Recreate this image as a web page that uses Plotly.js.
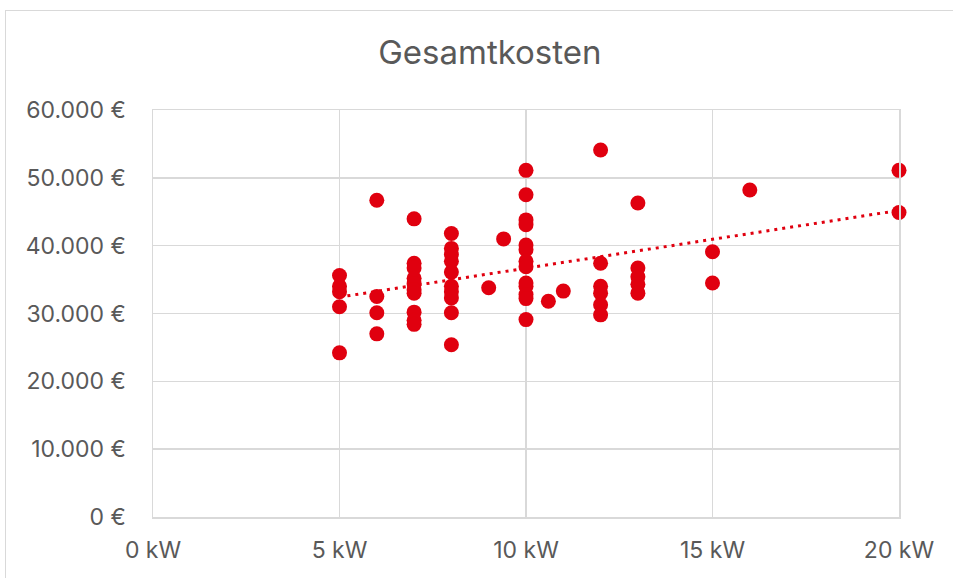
<!DOCTYPE html>
<html>
<head>
<meta charset="utf-8">
<script src="https://cdn.plot.ly/plotly-3.0.1.min.js"></script>
<style>
  html, body { margin: 0; padding: 0; background: #ffffff; overflow: hidden; }
  #wrap { position: relative; width: 953px; height: 578px; }
  #frame { position: absolute; left: 5px; top: 10px; width: 980px; height: 600px;
           border: 1.5px solid #d9d9d9; box-sizing: border-box; pointer-events: none; z-index: 5; }
  #chart { position: absolute; left: 0; top: 0; width: 953px; height: 578px; }
</style>
</head>
<body>
<div id="wrap">
  <div id="chart"></div>
  <div id="frame"></div>
</div>
<script>
// Leistung (kW) und Gesamtkosten (€) je Anlage
const leistungKW = [
  5, 5, 5, 5, 5,
  6, 6, 6, 6,
  7, 7, 7, 7, 7, 7, 7, 7, 7, 7,
  8, 8, 8, 8, 8, 8, 8, 8, 8, 8,
  9, 9.4,
  10, 10, 10, 10, 10, 10, 10, 10, 10, 10, 10, 10, 10,
  10.6, 11,
  12, 12, 12, 12, 12, 12,
  13, 13, 13, 13, 13,
  15, 15,
  16,
  20, 20
];
const gesamtkosten = [
  35600, 34000, 33200, 31000, 24200,
  46700, 32500, 30100, 27000,
  43950, 37400, 36700, 35200, 34400, 33500, 33000, 30200, 29000, 28400,
  41800, 39600, 38700, 37700, 36100, 34000, 33200, 32300, 30100, 25400,
  33800, 41000,
  51100, 47500, 43800, 43100, 40100, 39400, 37700, 36900, 34500, 34000, 32800, 32200, 29100,
  31800, 33300,
  54100, 37400, 34000, 33000, 31300, 29800,
  46300, 36700, 35400, 34300, 33000,
  39100, 34500,
  48200,
  51100, 44900
];
const xTicks = [0, 5, 10, 15, 20];
const xTickText = ["0 kW", "5 kW", "10 kW", "15 kW", "20 kW"];
const yTicks = [0, 10000, 20000, 30000, 40000, 50000, 60000];
const yTickText = ["0 €", "10.000 €", "20.000 €", "30.000 €", "40.000 €", "50.000 €", "60.000 €"];
const titel = "Gesamtkosten";

// Linearer Trend (kleinste Quadrate)
const n = leistungKW.length;
let sx = 0, sy = 0, sxx = 0, sxy = 0;
for (let i = 0; i < n; i++) {
  sx += leistungKW[i]; sy += gesamtkosten[i];
  sxx += leistungKW[i] * leistungKW[i]; sxy += leistungKW[i] * gesamtkosten[i];
}
const slope = (n * sxy - sx * sy) / (n * sxx - sx * sx);
const icpt = (sy - slope * sx) / n;
const xMin = Math.min(...leistungKW), xMax = Math.max(...leistungKW);
const trendX = [xMin, xMax];
const trendY = trendX.map(v => icpt + slope * v);

const red = "#E0000F";
const txt = "#595959";
const font = "Inter, Open Sans, sans-serif";

const traces = [
  {
    x: trendX, y: trendY, type: "scatter", mode: "lines",
    line: { color: red, width: 3, dash: "3px,5px" },
    hoverinfo: "skip", showlegend: false, cliponaxis: false
  },
  {
    x: leistungKW, y: gesamtkosten, type: "scatter", mode: "markers",
    marker: { color: red, size: 15, line: { width: 0 } },
    showlegend: false, cliponaxis: false
  }
];

const layout = {
  width: 953, height: 578,
  paper_bgcolor: "#ffffff", plot_bgcolor: "#ffffff",
  margin: { l: 153, r: 54, t: 110, b: 61, pad: 0 },
  title: {
    text: titel, x: 0.514, xref: "container", xanchor: "center",
    y: 0.91, yref: "container", yanchor: "middle",
    font: { family: font, size: 33, color: txt }
  },
  xaxis: {
    range: [0, 20], tickvals: xTicks, ticktext: xTickText,
    showgrid: true, gridcolor: "#d9d9d9", gridwidth: 1.5,
    zeroline: false, showline: true, mirror: true, linecolor: "#d9d9d9", linewidth: 1.5,
    ticks: "outside", ticklen: 12, tickcolor: "rgba(0,0,0,0)",
    tickfont: { family: font, size: 23, color: txt },
    fixedrange: true
  },
  yaxis: {
    range: [0, 60000], tickvals: yTicks, ticktext: yTickText,
    showgrid: true, gridcolor: "#d9d9d9", gridwidth: 1.5,
    zeroline: false, showline: true, mirror: true, linecolor: "#d9d9d9", linewidth: 1.5,
    ticks: "outside", ticklen: 21, tickcolor: "rgba(0,0,0,0)",
    tickfont: { family: font, size: 23, color: txt },
    fixedrange: true
  },
  showlegend: false
};

Plotly.newPlot("chart", traces, layout, { displayModeBar: false, staticPlot: true });
</script>
</body>
</html>
